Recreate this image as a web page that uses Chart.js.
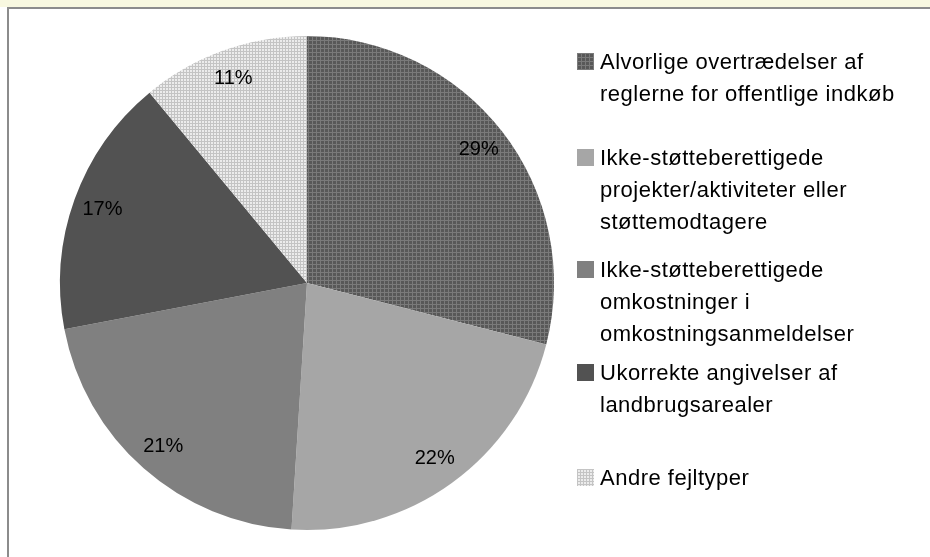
<!DOCTYPE html>
<html>
<head>
<meta charset="utf-8">
<script src="https://cdn.jsdelivr.net/npm/chart.js@4.4.1/dist/chart.umd.min.js"></script>
<style>
  html, body { margin: 0; padding: 0; }
  body { width: 930px; height: 557px; position: relative; overflow: hidden; background: #fff; font-family: "Liberation Sans", Arial, sans-serif; }
  #strip { position: absolute; left: 0; top: 0; width: 930px; height: 7px; background: #f8f8e0; }
  #frame { position: absolute; left: 7px; top: 7px; width: 923px; height: 550px; background: #fff;
           border-left: 2px solid #8c8c8c; border-top: 2px solid #8c8c8c; box-sizing: border-box; }
  #wrap { position: absolute; left: 0; top: 0; width: 930px; height: 557px; }
  #legend { position: absolute; left: 577px; top: 0; width: 353px; height: 557px; }
  .item { position: absolute; left: 0; font-size: 22px; line-height: 32px; letter-spacing: 0.5px; color: #000; white-space: nowrap; }
  .item canvas { position: absolute; left: 0; top: 7px; width: 17px; height: 17px; }
  .item span { display: block; margin-left: 23px; }
</style>
</head>
<body>
<div id="strip"></div>
<div id="frame"></div>
<div id="wrap"><canvas id="grafico"></canvas></div>
<div id="legend"></div>
<script>
var kategorier = [
    ['Alvorlige overtrædelser af', 'reglerne for offentlige indkøb'],
    ['Ikke-støtteberettigede', 'projekter/aktiviteter eller', 'støttemodtagere'],
    ['Ikke-støtteberettigede', 'omkostninger i', 'omkostningsanmeldelser'],
    ['Ukorrekte angivelser af', 'landbrugsarealer'],
    ['Andre fejltyper']
];
var andele = [29, 22, 21, 17, 11];

// fill styles for each slice (patterns built below)
function lavMoenster(base, line, size) {
    var c = document.createElement('canvas');
    c.width = size; c.height = size;
    var g = c.getContext('2d');
    g.fillStyle = base;
    g.fillRect(0, 0, size, size);
    g.fillStyle = line;
    g.fillRect(0, 0, size, 1);
    g.fillRect(0, 0, 1, size);
    return c;
}
var moenstre = [
    lavMoenster('#585858', '#7a7a7a', 4),
    null,
    null,
    null,
    lavMoenster('#ececec', '#c4c4c4', 3)
];
var flade = ['#5a5a5a', '#a6a6a6', '#808080', '#525252', '#ececec'];

var ctx = document.getElementById('grafico').getContext('2d');
var fyld = flade.map(function (f, i) {
    return moenstre[i] ? ctx.createPattern(moenstre[i], 'repeat') : f;
});

var procentLabels = {
    id: 'procentLabels',
    afterDatasetsDraw: function (chart) {
        var c = chart.ctx;
        var meta = chart.getDatasetMeta(0);
        c.save();
        c.font = '20px "Liberation Sans", Arial, sans-serif';
        c.fillStyle = '#000';
        c.textAlign = 'center';
        c.textBaseline = 'middle';
        meta.data.forEach(function (arc, i) {
            var p = arc.getProps(['x', 'y', 'startAngle', 'endAngle', 'outerRadius']);
            var a = (p.startAngle + p.endAngle) / 2;
            var r = p.outerRadius * 0.88;
            c.fillText(andele[i] + '%', p.x + Math.cos(a) * r, p.y + Math.sin(a) * r);
        });
        c.restore();
    }
};

var myChart = new Chart(ctx, {
    type: 'pie',
    data: {
        labels: kategorier.map(function (l) { return l.join(' '); }),
        datasets: [{
            data: andele,
            backgroundColor: fyld,
            borderWidth: 0
        }]
    },
    options: {
        responsive: true,
        maintainAspectRatio: false,
        animation: false,
        layout: { padding: { top: 36, bottom: 27, left: 60, right: 376 } },
        plugins: {
            legend: { display: false },
            tooltip: { enabled: false }
        }
    },
    plugins: [procentLabels]
});

// legend as html
var legendTop = [46, 142, 254, 357, 462];
var legend = document.getElementById('legend');
kategorier.forEach(function (linjer, i) {
    var d = document.createElement('div');
    d.className = 'item';
    d.style.top = legendTop[i] + 'px';
    var sw = document.createElement('canvas');
    sw.width = 17; sw.height = 17;
    var g = sw.getContext('2d');
    g.fillStyle = moenstre[i] ? g.createPattern(moenstre[i], 'repeat') : flade[i];
    g.fillRect(0, 0, 17, 17);
    d.appendChild(sw);
    var s = document.createElement('span');
    s.innerHTML = linjer.join('<br>');
    d.appendChild(s);
    legend.appendChild(d);
});
</script>
</body>
</html>
